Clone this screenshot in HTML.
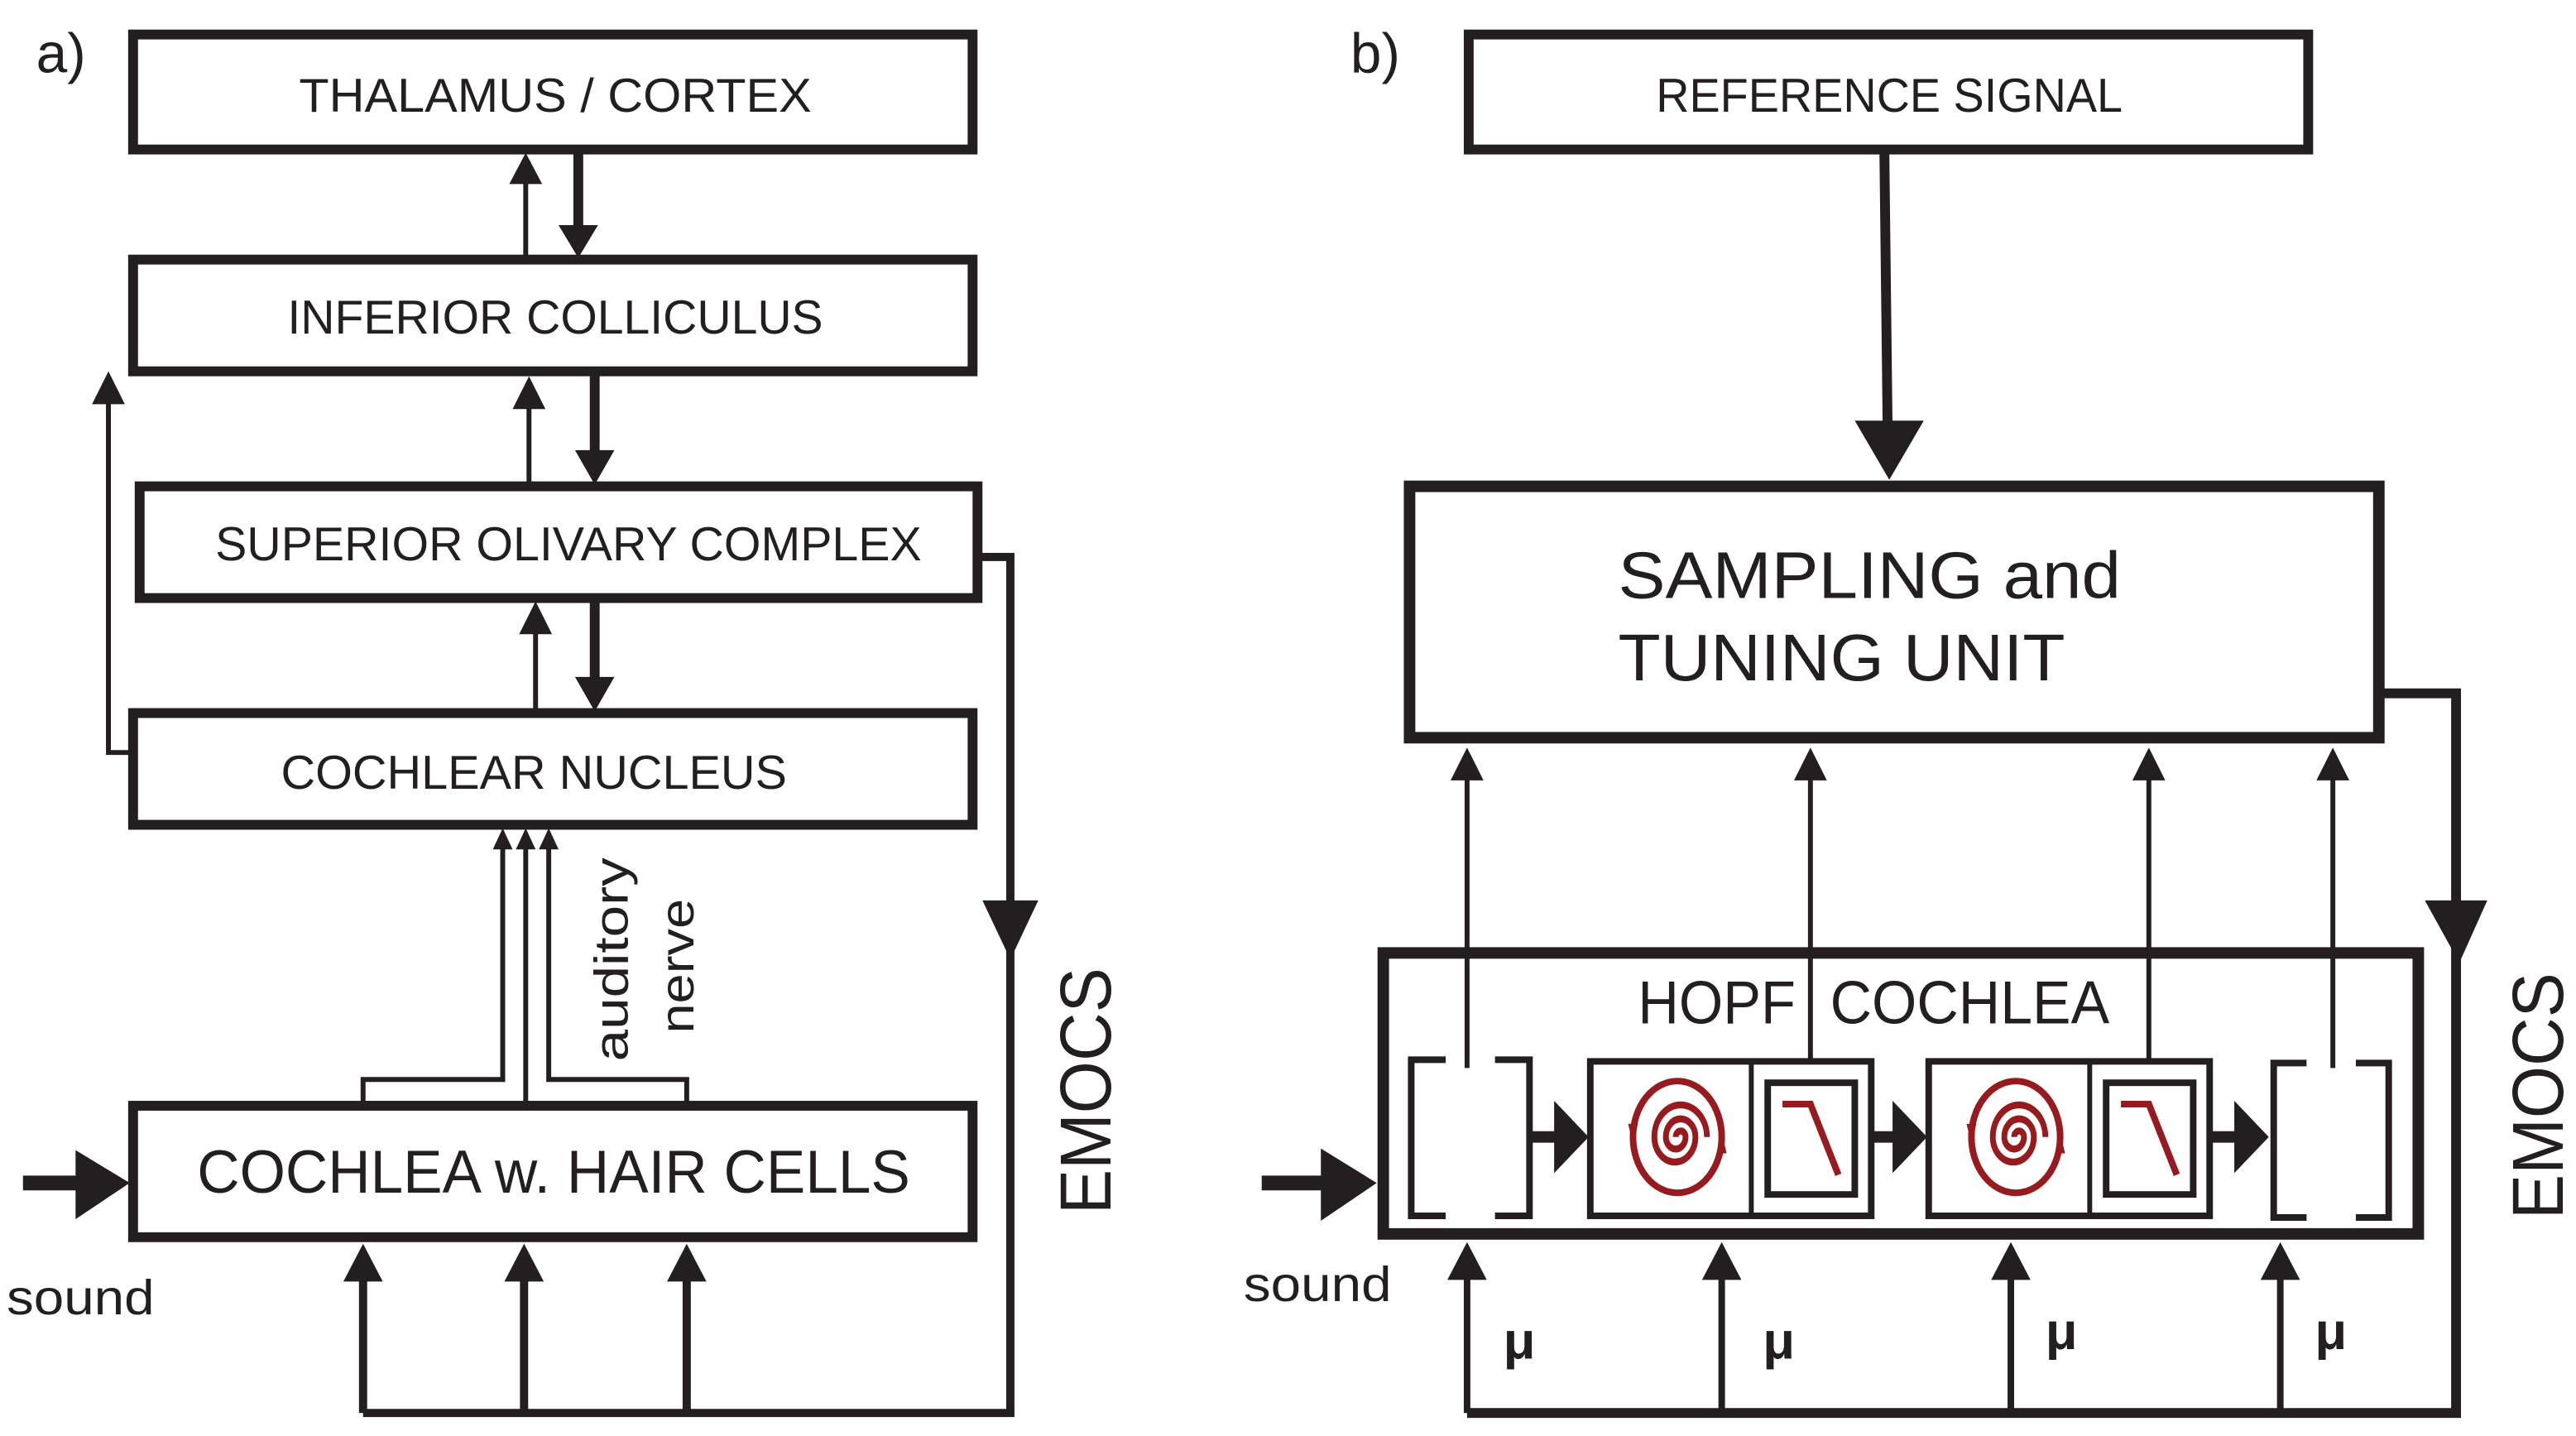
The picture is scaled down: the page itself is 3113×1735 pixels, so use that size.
<!DOCTYPE html>
<html><head><meta charset="utf-8"><style>
html,body{margin:0;padding:0;background:#fff;}
svg{display:block;}
text{font-family:"Liberation Sans",sans-serif;fill:#231f20;}
</style></head><body>
<svg width="3113" height="1735" viewBox="0 0 1568 874" preserveAspectRatio="none" xmlns="http://www.w3.org/2000/svg">
<defs>
<g id="sp">
<g transform="scale(1,1.22)">
<path d="M-1,0 A3,3 0 0 1 5,0 A6,6 0 0 1 -7,0 A9,9 0 0 1 11,0 A12.5,12.5 0 0 1 -14,0 A16,16 0 0 1 18,0" fill="none" stroke="#971b1e" stroke-width="3.5"/>
</g>
<ellipse cx="0" cy="0" rx="27" ry="34" fill="none" stroke="#971b1e" stroke-width="4"/>
<path d="M-30,-8 L-24,-8 L-27,4 Z" fill="#971b1e"/>
<path d="M24,10 L30,10 L27,-3 Z" fill="#971b1e"/>
</g>
<g id="lp">
<path d="M-30,-20 L-13,-20 L4,23" fill="none" stroke="#971b1e" stroke-width="4"/>
</g>
</defs>
<g fill="none" stroke="#231f20">
<rect x="81" y="21" width="511" height="70" stroke-width="6"/>
<rect x="81" y="158" width="511" height="68" stroke-width="6"/>
<rect x="85" y="296" width="510" height="68" stroke-width="6"/>
<rect x="81" y="434" width="511" height="68" stroke-width="6"/>
<rect x="81" y="673" width="511" height="80" stroke-width="6"/>
<line x1="320" y1="157" x2="320" y2="108" stroke-width="3"/>
<line x1="352" y1="92" x2="352" y2="140" stroke-width="6"/>
<line x1="322" y1="295" x2="322" y2="245" stroke-width="3"/>
<line x1="362" y1="227" x2="362" y2="278" stroke-width="6"/>
<line x1="326" y1="433" x2="326" y2="382" stroke-width="3"/>
<line x1="362" y1="365" x2="362" y2="416" stroke-width="6"/>
<polyline points="80,458 66,458 66,242" stroke-width="3"/>
<polyline points="221,672 221,657 306,657 306,515" stroke-width="3"/>
<line x1="320" y1="672" x2="320" y2="515" stroke-width="3"/>
<polyline points="418,672 418,657 334,657 334,515" stroke-width="3"/>
<polyline points="596,339 615,339 615,860 221,860" stroke-width="5"/>
<line x1="221" y1="860" x2="221" y2="775" stroke-width="5"/>
<line x1="319" y1="860" x2="319" y2="775" stroke-width="5"/>
<line x1="418" y1="860" x2="418" y2="775" stroke-width="5"/>
<line x1="14" y1="720" x2="52" y2="720" stroke-width="9"/>
<rect x="894" y="21" width="511" height="70" stroke-width="6"/>
<line x1="1147" y1="92" x2="1149" y2="262" stroke-width="6"/>
<rect x="858" y="296" width="590" height="153" stroke-width="7"/>
<polyline points="1449,422 1495,422 1495,860 893,860" stroke-width="6"/>
<rect x="842" y="580" width="630" height="171" stroke-width="7"/>
<line x1="893" y1="470" x2="893" y2="650" stroke-width="3"/>
<line x1="1102" y1="470" x2="1102" y2="645" stroke-width="3"/>
<line x1="1308" y1="470" x2="1308" y2="645" stroke-width="3"/>
<line x1="1420" y1="470" x2="1420" y2="650" stroke-width="3"/>
<polyline points="880,645 859,645 859,740 880,740" stroke-width="4"/>
<polyline points="910,645 931,645 931,740 910,740" stroke-width="4"/>
<polyline points="1404,647 1384,647 1384,741 1404,741" stroke-width="4"/>
<polyline points="1434,647 1454,647 1454,741 1434,741" stroke-width="4"/>
<rect x="968" y="646" width="171" height="94" stroke-width="4"/>
<line x1="1066" y1="646" x2="1066" y2="740" stroke-width="3"/>
<rect x="1076" y="659" width="53" height="68" stroke-width="4"/>
<rect x="1174" y="646" width="171" height="94" stroke-width="4"/>
<line x1="1272" y1="646" x2="1272" y2="740" stroke-width="3"/>
<rect x="1282" y="659" width="53" height="68" stroke-width="4"/>
<line x1="932" y1="692" x2="950" y2="692" stroke-width="7"/>
<line x1="1140" y1="692" x2="1156" y2="692" stroke-width="7"/>
<line x1="1346" y1="692" x2="1364" y2="692" stroke-width="7"/>
<line x1="768" y1="720" x2="808" y2="720" stroke-width="9"/>
<line x1="893" y1="860" x2="893" y2="775" stroke-width="4"/>
<line x1="1048" y1="860" x2="1048" y2="775" stroke-width="4"/>
<line x1="1224" y1="860" x2="1224" y2="775" stroke-width="4"/>
<line x1="1388" y1="860" x2="1388" y2="775" stroke-width="4"/>
</g>
<g fill="#231f20">
<path d="M310,112 L330,112 L320,93 Z"/>
<path d="M340,137 L364,137 L352,157 Z"/>
<path d="M312,249 L332,249 L322,229 Z"/>
<path d="M350,274 L374,274 L362,295 Z"/>
<path d="M316,386 L336,386 L326,366 Z"/>
<path d="M350,412 L374,412 L362,433 Z"/>
<path d="M56,246 L76,246 L66,226 Z"/>
<path d="M300,517 L312,517 L306,504 Z"/>
<path d="M314,517 L326,517 L320,504 Z"/>
<path d="M328,517 L340,517 L334,504 Z"/>
<path d="M598,548 L632,548 L615,584 Z"/>
<path d="M209,780 L233,780 L221,757 Z"/>
<path d="M307,780 L331,780 L319,757 Z"/>
<path d="M406,780 L430,780 L418,757 Z"/>
<path d="M46,700 L46,742 L79,720 Z"/>
<path d="M1129,256 L1171,256 L1150,292 Z"/>
<path d="M1476,548 L1514,548 L1497,586 Z"/>
<path d="M883,475 L903,475 L893,455 Z"/>
<path d="M1092,475 L1112,475 L1102,455 Z"/>
<path d="M1298,475 L1318,475 L1308,455 Z"/>
<path d="M1410,475 L1430,475 L1420,455 Z"/>
<path d="M946,670 L946,714 L967,692 Z"/>
<path d="M1152,670 L1152,714 L1173,692 Z"/>
<path d="M1360,670 L1360,714 L1381,692 Z"/>
<path d="M804,699 L804,743 L838,720 Z"/>
<path d="M881,779 L905,779 L893,756 Z"/>
<path d="M1036,779 L1060,779 L1048,756 Z"/>
<path d="M1212,779 L1236,779 L1224,756 Z"/>
<path d="M1376,779 L1400,779 L1388,756 Z"/>
</g>
<use href="#sp" x="1021" y="692"/>
<use href="#sp" x="1227" y="692"/>
<use href="#lp" x="1115" y="692"/>
<use href="#lp" x="1321" y="692"/>
<text x="22" y="44" font-size="34">a)</text>
<text x="822" y="44" font-size="34">b)</text>
<text x="338" y="68" font-size="29" text-anchor="middle" textLength="312" lengthAdjust="spacingAndGlyphs">THALAMUS / CORTEX</text>
<text x="338" y="203" font-size="29" text-anchor="middle" textLength="326" lengthAdjust="spacingAndGlyphs">INFERIOR COLLICULUS</text>
<text x="346" y="341" font-size="29" text-anchor="middle" textLength="430" lengthAdjust="spacingAndGlyphs">SUPERIOR OLIVARY COMPLEX</text>
<text x="325" y="480" font-size="29" text-anchor="middle" textLength="308" lengthAdjust="spacingAndGlyphs">COCHLEAR NUCLEUS</text>
<text x="337" y="726" font-size="37" text-anchor="middle" textLength="434" lengthAdjust="spacingAndGlyphs">COCHLEA w.  HAIR CELLS</text>
<text x="4" y="800" font-size="30" textLength="90" lengthAdjust="spacingAndGlyphs">sound</text>
<text transform="translate(382,584) rotate(-90)" font-size="29" text-anchor="middle" textLength="124" lengthAdjust="spacingAndGlyphs">auditory</text>
<text transform="translate(422,588) rotate(-90)" font-size="29" text-anchor="middle" textLength="82" lengthAdjust="spacingAndGlyphs">nerve</text>
<text transform="translate(676,664) rotate(-90)" font-size="44" text-anchor="middle" textLength="150" lengthAdjust="spacingAndGlyphs">EMOCS</text>
<text x="1150" y="68" font-size="29" text-anchor="middle" textLength="284" lengthAdjust="spacingAndGlyphs">REFERENCE SIGNAL</text>
<text x="985" y="364" font-size="40" textLength="306" lengthAdjust="spacingAndGlyphs">SAMPLING and</text>
<text x="985" y="414" font-size="40" textLength="272" lengthAdjust="spacingAndGlyphs">TUNING UNIT</text>
<text x="997" y="623" font-size="37" textLength="96" lengthAdjust="spacingAndGlyphs">HOPF</text>
<text x="1114" y="623" font-size="37" textLength="170" lengthAdjust="spacingAndGlyphs">COCHLEA</text>
<text x="757" y="792" font-size="30" textLength="90" lengthAdjust="spacingAndGlyphs">sound</text>
<text transform="translate(1560,667) rotate(-90)" font-size="44" text-anchor="middle" textLength="150" lengthAdjust="spacingAndGlyphs">EMOCS</text>
<text x="915" y="827" font-size="32" font-weight="bold">μ</text>
<text x="1073" y="827" font-size="32" font-weight="bold">μ</text>
<text x="1245" y="821" font-size="32" font-weight="bold">μ</text>
<text x="1409" y="821" font-size="32" font-weight="bold">μ</text>
</svg>
</body></html>
